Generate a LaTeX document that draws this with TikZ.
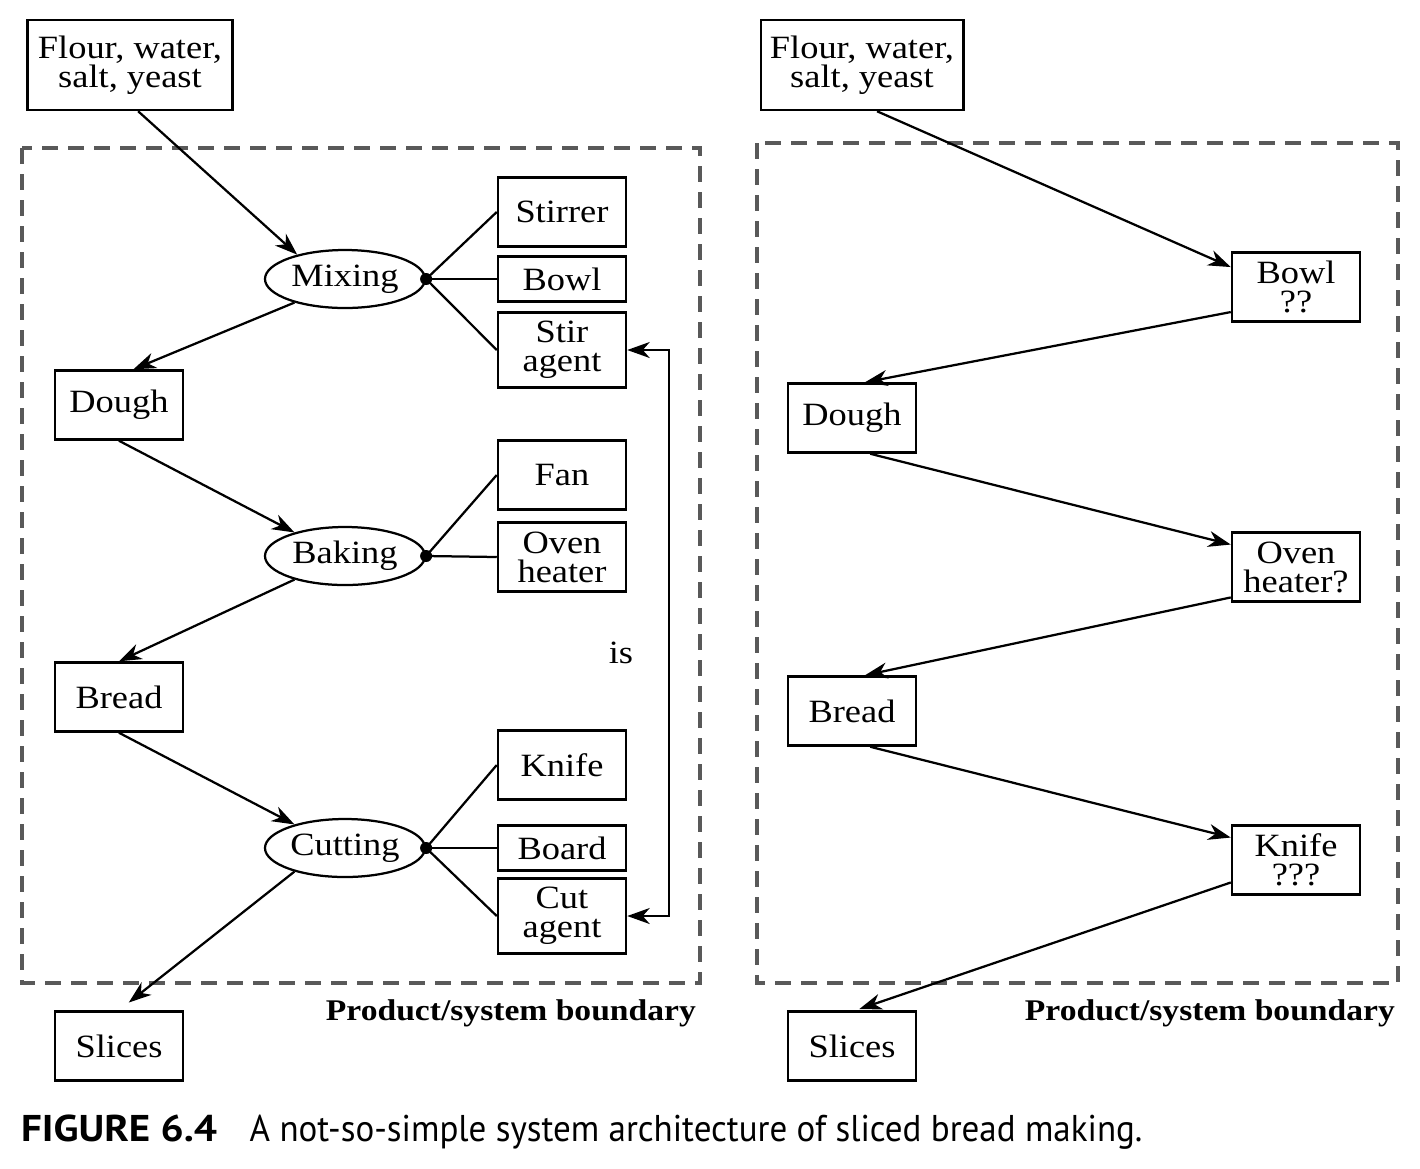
\documentclass[tikz,border=0pt]{standalone}
\usepackage{fontspec}
\setmainfont{Liberation Serif}[FakeStretch=1.12]
\newfontfamily\capfont{PT Sans}[FakeStretch=0.94]
\newfontfamily\capbf{PT Sans}[FakeStretch=1.1]
\usetikzlibrary{arrows.meta, shapes.geometric}

\begin{document}
\begin{tikzpicture}[x=0.4pt, y=-0.4pt, line width=0.9pt,
    >={Stealth[length=9pt, width=6.4pt, inset=2.8pt]},
    font=\fontsize{13}{11.6}\selectfont,
    box/.style={draw, line width=1pt, inner sep=0pt, align=center,
      minimum width=51.2pt, minimum height=27.6pt},
    proc/.style={ellipse, draw, inner sep=0pt,
      minimum width=64pt, minimum height=23.2pt},
    bnd/.style={draw=black!65, line width=1.6pt,
      dash pattern=on 6.4pt off 4pt},
    lbl/.style={font=\bfseries\fontsize{12}{14}\selectfont,
      anchor=base east, inner sep=0pt}]
  \useasboundingbox (0,0) rectangle (1420,1168);
  % left: process with its three functions
  \draw[bnd] (22,148) rectangle (700,983);
  \node[box, minimum width=82pt, minimum height=36pt] (fl) at (130,65)
        {Flour, water,\\salt, yeast};
  \node[proc] (mix) at (345,279) {Mixing};
  \node[proc] (bak) at (345,556) {Baking};
  \node[proc] (cut) at (345,848) {Cutting};
  \foreach \n/\t/\y in {dough/Dough/405, bread/Bread/697, slices/Slices/1046}
    \node[box] (\n) at (119,\y) {\t};
  \node[box] (stir) at (562,212) {Stirrer};
  \node[box, minimum height=18pt] (bowl) at (562,279) {Bowl};
  \node[box, minimum height=30pt] (sag) at (562,350) {Stir\\agent};
  \node[box] (fan) at (562,475) {Fan};
  \node[box] (oven) at (562,557) {Oven\\heater};
  \node[box] (knife) at (562,765) {Knife};
  \node[box, minimum height=18pt] (board) at (562,848) {Board};
  \node[box, minimum height=30pt] (cag) at (562,916) {Cut\\agent};
  \node (is) at (621,653) {is};
  \node[lbl] (bd1) at (697,1020) {Product/system boundary};
  \draw[->] (fl.-80) -- (mix.153);
  \draw[->] (mix.-155) -- (dough.68);
  \draw[->] (dough.south) -- (bak.155);
  \draw[->] (bak.-155) -- (bread.north);
  \draw[->] (bread.south) -- (cut.155);
  \draw[->, shorten >=5pt] (cut.-155) -- (slices.north);
  \foreach \p/\list in {mix/{stir,bowl,sag}, bak/{fan,oven},
                        cut/{knife,board,cag}}{
    \fill (\p.east) circle (2.4pt);
    \foreach \b in \list
      \draw (\p.east) -- (\b.west);
  }
  \draw[<->] (sag.east) -- ++(42,0) |- (cag.east);
  % right: one component per step
  \draw[bnd] (757,143) rectangle (1398,983);
  \node[box, minimum width=81pt, minimum height=36pt] (fl2) at (862,65)
        {Flour, water,\\salt, yeast};
  \node[box] (bw2) at (1296,287) {Bowl\\??};
  \node[box] (ov2) at (1296,567) {Oven\\heater?};
  \node[box] (kn2) at (1296,860) {Knife\\???};
  \node[box] (dg2) at (852,418) {Dough};
  \node[box] (br2) at (852,711) {Bread};
  \node[box] (sl2) at (852,1046) {Slices};
  \node[lbl] (bd2) at (1396,1020) {Product/system boundary};
  \draw[->] (fl2.-72) -- (bw2.163);
  \draw[->] (bw2.-159) -- (dg2.70);
  \draw[->] (dg2.-63) -- (ov2.161);
  \draw[->] (ov2.-155) -- (br2.70);
  \draw[->] (br2.-63) -- (kn2.161);
  \draw[->, shorten >=1.5pt] (kn2.-161) -- (sl2.84);
  % caption
  \node[anchor=base west, inner sep=0pt,
        font=\capfont\fontsize{14.9}{16}\selectfont] (cap) at (20,1141)
        {{\capbf\bfseries FIGURE 6.4}\hspace{13pt}A not-so-simple system
         architecture of sliced bread making.};
\end{tikzpicture}
\end{document}
